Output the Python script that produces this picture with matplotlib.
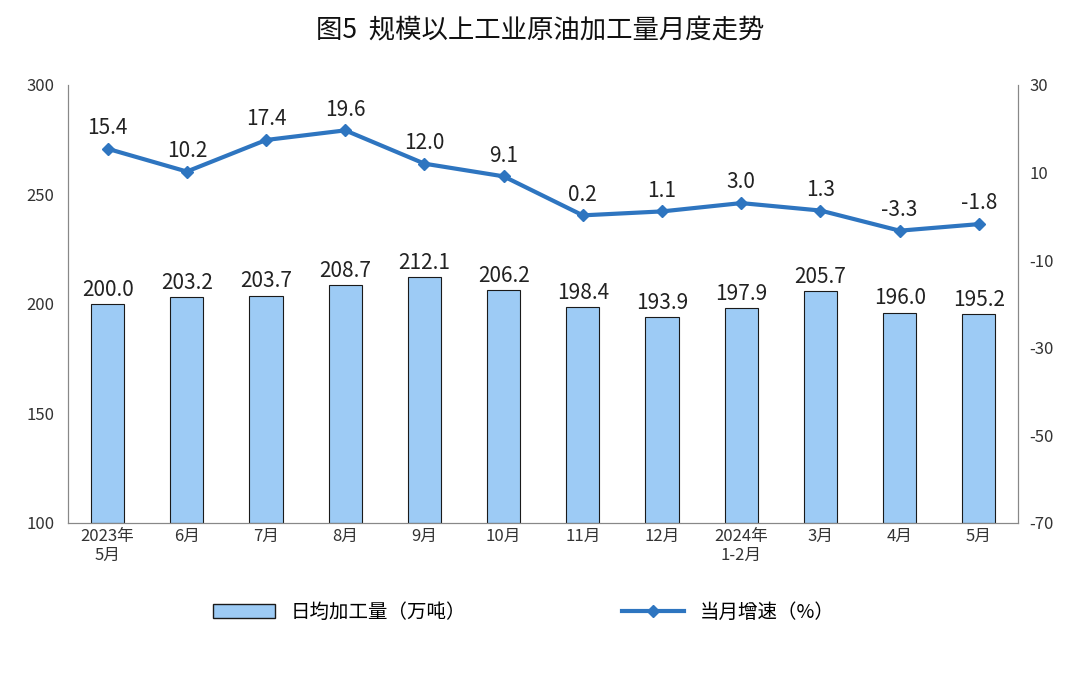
import matplotlib
matplotlib.use("Agg")
import matplotlib.pyplot as plt
from matplotlib.lines import Line2D
from matplotlib.patches import Patch

plt.rcParams['font.family'] = ['Noto Sans CJK JP', 'Noto Sans CJK SC', 'Noto Sans CJK TC', 'Noto Sans CJK KR', 'DejaVu Sans']
plt.rcParams['axes.unicode_minus'] = False

categories = ["2023年\n5月", "6月", "7月", "8月", "9月", "10月", "11月", "12月", "2024年\n1-2月", "3月", "4月", "5月"]
daily = [200.0, 203.2, 203.7, 208.7, 212.1, 206.2, 198.4, 193.9, 197.9, 205.7, 196.0, 195.2]
growth = [15.4, 10.2, 17.4, 19.6, 12.0, 9.1, 0.2, 1.1, 3.0, 1.3, -3.3, -1.8]

fig = plt.figure(figsize=(10.8, 6.73), dpi=100)
ax = fig.add_axes([0.063, 0.223, 0.88, 0.651])
x = list(range(len(categories)))
ax.bar(x, [d - 100 for d in daily], bottom=100, width=0.42, color="#9DCBF5", edgecolor="#1a1a1a", linewidth=0.8, zorder=2)
ax.set_ylim(100, 300)
ax.set_yticks([100, 150, 200, 250, 300])
ax.set_xlim(-0.5, len(categories) - 0.5)
ax.set_xticks(x)
ax.set_xticklabels(categories, fontsize=12)
for xi, d in zip(x, daily):
    ax.text(xi, d + 1.5, f"{d:.1f}", ha="center", va="bottom", fontsize=15, color="#222")

ax2 = ax.twinx()
ax2.plot(x, growth, color="#2E75C0", linewidth=3, marker="D", markersize=6, zorder=3)
ax2.set_ylim(-70, 30)
ax2.set_yticks([-70, -50, -30, -10, 10, 30])
for xi, g in zip(x, growth):
    ax2.text(xi, g + 2.2, f"{g:.1f}", ha="center", va="bottom", fontsize=15, color="#222")

for a in (ax, ax2):
    a.spines['top'].set_visible(False)
    for s in ('left', 'right', 'bottom'):
        a.spines[s].set_color("#888888")
    a.tick_params(colors="#333333", labelsize=12, length=0)
ax.tick_params(axis='x', length=4, color="#888888", direction="in")
ax.tick_params(axis='y', pad=10)
ax2.tick_params(axis='y', pad=8)

fig.text(0.5, 0.955, "图5  规模以上工业原油加工量月度走势", ha="center", va="center", fontsize=19, color="#111")

handles = [Patch(facecolor="#9DCBF5", edgecolor="#1a1a1a", label="日均加工量（万吨）"),
           Line2D([0], [0], color="#2E75C0", lw=3, marker="D", markersize=6, label="当月增速（%）")]
fig.legend(handles=handles, loc="center", bbox_to_anchor=(0.485, 0.09), ncol=2, frameon=False,
           fontsize=14, columnspacing=8, handlelength=3.2)

fig.savefig("out.png", dpi=100)
